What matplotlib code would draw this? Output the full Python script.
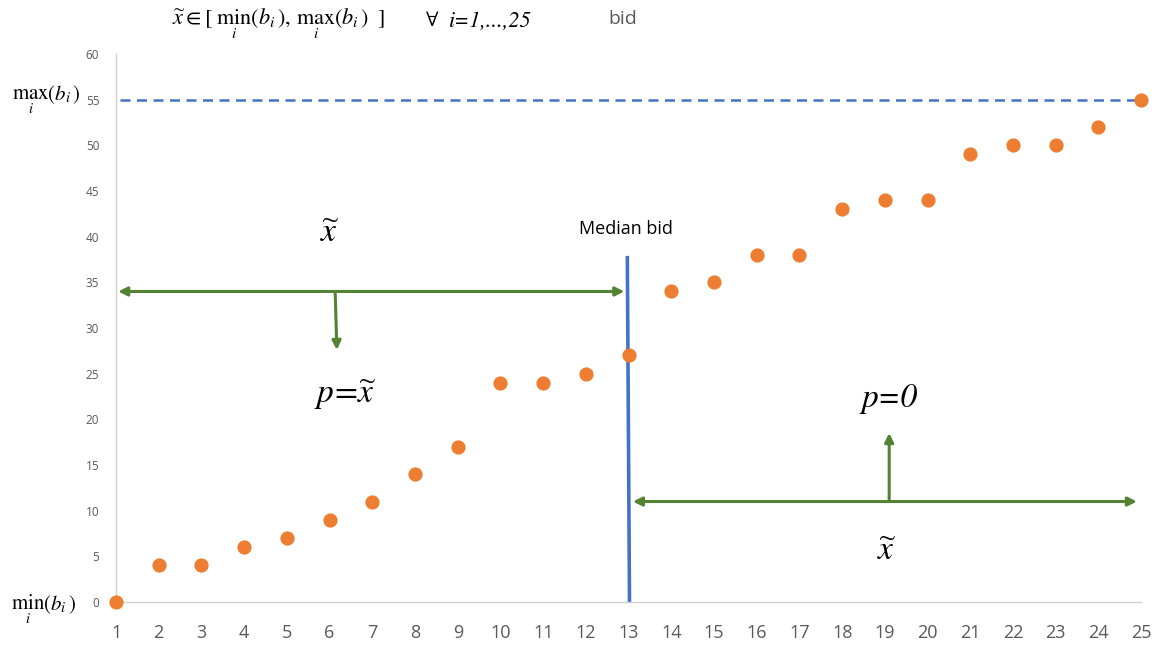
import matplotlib
matplotlib.use('Agg')
import matplotlib.pyplot as plt

# bids sorted, one per bidder
bidder = list(range(1, 26))
bid = [0, 4, 4, 6, 7, 9, 11, 14, 17, 24, 24, 25, 27,
       34, 35, 38, 38, 43, 44, 44, 49, 50, 50, 52, 55]
median_pos = 13
max_bid = 55
left_arrow_y = 34
right_arrow_y = 11

orange = '#ED7D31'
blue = '#4472C4'
green = '#548235'
grey = '#595959'

plt.rcParams['mathtext.fontset'] = 'stix'
plt.rcParams['font.family'] = ['Open Sans', 'DejaVu Sans']
stix_it = dict(family='STIXGeneral', style='italic')

fig = plt.figure(figsize=(11.58, 6.46), dpi=100)
ax = fig.add_axes([0.1002, 0.0681, 0.8853, 0.8483])

ax.axhline(max_bid, xmin=0.004, xmax=1, color=blue, lw=1.8, ls=(0, (4, 2.6)))
ax.plot([median_pos - 0.03, median_pos + 0.02], [37.7, 0.2], color=blue, lw=2.6)
ax.scatter(bidder, bid, s=85, color=orange, zorder=3, clip_on=False)

# arrows
ap = dict(arrowstyle='<|-|>', color=green, lw=2.2, mutation_scale=13, shrinkA=0, shrinkB=0)
ax.annotate('', xy=(1.05, left_arrow_y), xytext=(12.9, left_arrow_y), arrowprops=ap)
ax.annotate('', xy=(13.1, right_arrow_y), xytext=(24.9, right_arrow_y), arrowprops=ap)
ap1 = dict(arrowstyle='-|>', color=green, lw=2.2, mutation_scale=13, shrinkA=0, shrinkB=0)
ax.annotate('', xy=(6.17, 27.6), xytext=(6.13, left_arrow_y), arrowprops=ap1)
ax.annotate('', xy=(19.1, 18.5), xytext=(19.1, right_arrow_y), arrowprops=ap1)

# labels
ax.text(6.0, 40.3, r'$\widetilde{x}$', fontsize=24, ha='center', va='center')
ax.text(12.94, 40.8, 'Median bid', fontsize=13, ha='center', va='center')
ax.text(6.36, 22.7, r'$p\!=\!\widetilde{x}$', fontsize=24, ha='center', va='center')
ax.text(19.1, 22.3, 'p=0', fontsize=24, ha='center', va='center', **stix_it)
ax.text(19.05, 5.5, r'$\widetilde{x}$', fontsize=24, ha='center', va='center')
ax.text(-0.62, 55.0, r'$\max_{i}(b_i)$', fontsize=15, ha='center', va='center', clip_on=False)
ax.text(-0.7, -0.9, r'$\min_{i}(b_i)$', fontsize=15, ha='center', va='center', clip_on=False)

fig.text(278 / 1158, 1 - 24 / 646,
         r'$\widetilde{x}\in[\;\min_{i}(b_i),\,\max_{i}(b_i)\;\;]$',
         fontsize=16, ha='center', va='center')
fig.text(432 / 1158, 1 - 21 / 646, r'$\forall$', fontsize=16, ha='center', va='center')
fig.text(490 / 1158, 1 - 21 / 646, 'i=1,...,25', fontsize=16, ha='center', va='center', **stix_it)
fig.text(623 / 1158, 1 - 19 / 646, 'bid', fontsize=14, color=grey, ha='center', va='center')

ax.set_xlim(1, 25)
ax.set_ylim(0, 60)
ax.set_xticks(bidder)
ax.set_yticks(range(0, 61, 5))
ax.tick_params(axis='x', length=0, labelsize=13, colors=grey, pad=16)
ax.tick_params(axis='y', length=0, labelsize=8.5, colors=grey, pad=12)
for s in ['top', 'right']:
    ax.spines[s].set_visible(False)
for s in ['left', 'bottom']:
    ax.spines[s].set_color('#D0D0D0')
    ax.spines[s].set_linewidth(1)

fig.savefig('out.png', dpi=100)
